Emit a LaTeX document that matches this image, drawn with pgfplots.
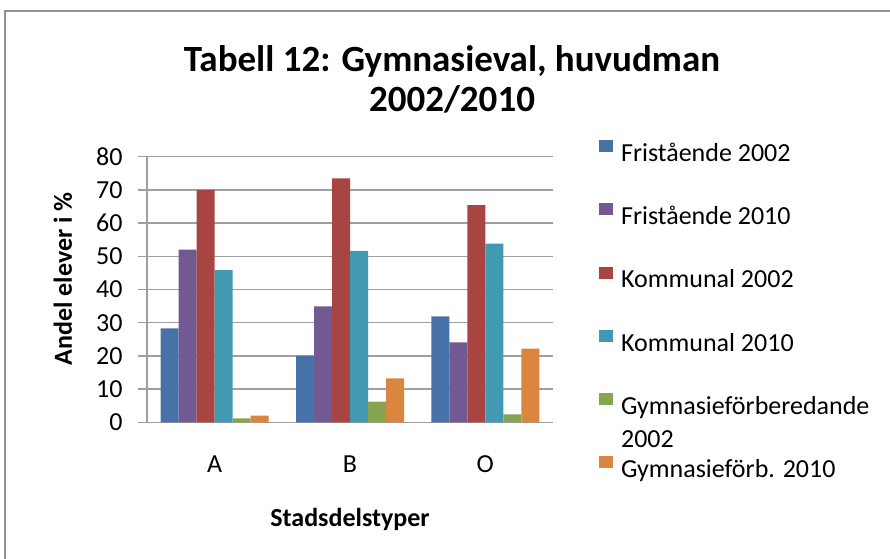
\documentclass[border=0pt]{standalone}
\usepackage{fontspec}
\setmainfont{Carlito}
\usepackage{pgfplots}
\pgfplotsset{compat=1.18}
\definecolor{c1}{RGB}{70,114,167}
\definecolor{c2}{RGB}{114,89,145}
\definecolor{c3}{RGB}{168,68,66}
\definecolor{c4}{RGB}{66,153,178}
\definecolor{c5}{RGB}{135,164,78}
\definecolor{c6}{RGB}{219,133,62}
\newcommand\ls{\rule[-7bp]{0pt}{27bp}}
\begin{document}
\begin{tikzpicture}
\useasboundingbox (0,0) rectangle (890bp,559bp);
\draw[color=gray!85, line width=2bp] (5bp,0) -- (5bp,548bp) -- (890bp,548bp);
\node[font=\fontsize{37bp}{40bp}\selectfont\bfseries, align=center] at (452bp,480bp) {Tabell 12: Gymnasieval, huvudman\\2002/2010};
\begin{axis}[
  at={(147bp,136.7bp)}, anchor=south west,
  scale only axis, width=406bp, height=265.6bp,
  ymin=0, ymax=80, ytick={0,10,...,80},
  xmin=-0.5, xmax=2.5, xtick={0,1,2}, xticklabels={A,B,O},
  ybar=0pt, bar width=18bp,
  axis lines*=left,
  axis line style={gray!75, line width=1.3bp},
  ymajorgrids, grid style={gray!75, line width=1.3bp},
  tick align=outside, major tick length=9bp,
  ytick style={gray!75, line width=1.3bp},
  xtick style={draw=none},
  tick label style={font=\fontsize{26bp}{31bp}\selectfont},
  /pgf/number format/assume math mode=true,
  yticklabel style={anchor=east, xshift=-12bp},
  xticklabel style={anchor=base, yshift=-41bp},
  ylabel={Andel elever i \%},
  ylabel style={at={(axis description cs:-0.207,0.54)}, anchor=center, font=\fontsize{26bp}{31bp}\selectfont\bfseries},
  xlabel={Stadsdelstyper},
  xlabel style={at={(axis description cs:0.5,-0.364)}, anchor=center, font=\fontsize{26bp}{31bp}\selectfont\bfseries},
  every axis plot/.append style={draw=none, legend image code/.code={\fill[##1,draw=none] (0bp,0bp) rectangle (14bp,12bp);}},
  legend style={at={(axis description cs:1.113,1.063)}, anchor=north west, draw=none, fill=none, inner sep=0pt,
    font=\fontsize{26bp}{33bp}\selectfont, row sep=40.5bp, nodes={inner sep=0pt},
    /tikz/every odd column/.append style={column sep=8bp}},
  legend cell align=left,
]
\addplot[fill=c1] coordinates {(0,28.3) (1,20.0) (2,31.9)};
\addlegendentry{\ls Fristående 2002}
\addplot[fill=c2] coordinates {(0,52.0) (1,34.9) (2,24.1)};
\addlegendentry{\ls Fristående 2010}
\addplot[fill=c3] coordinates {(0,70.0) (1,73.5) (2,65.4)};
\addlegendentry{\ls Kommunal 2002}
\addplot[fill=c4] coordinates {(0,45.8) (1,51.6) (2,53.8)};
\addlegendentry{\ls Kommunal 2010}
\addplot[fill=c5] coordinates {(0,1.2) (1,6.2) (2,2.4)};
\addlegendentry{\ls\smash{\begin{tabular}[t]{@{}l@{}}Gymnasieförberedande\\2002\end{tabular}}}
\addplot[fill=c6] coordinates {(0,2.0) (1,13.2) (2,22.2)};
\addlegendentry{\ls Gymnasieförb. 2010}
\end{axis}
\end{tikzpicture}
\end{document}
